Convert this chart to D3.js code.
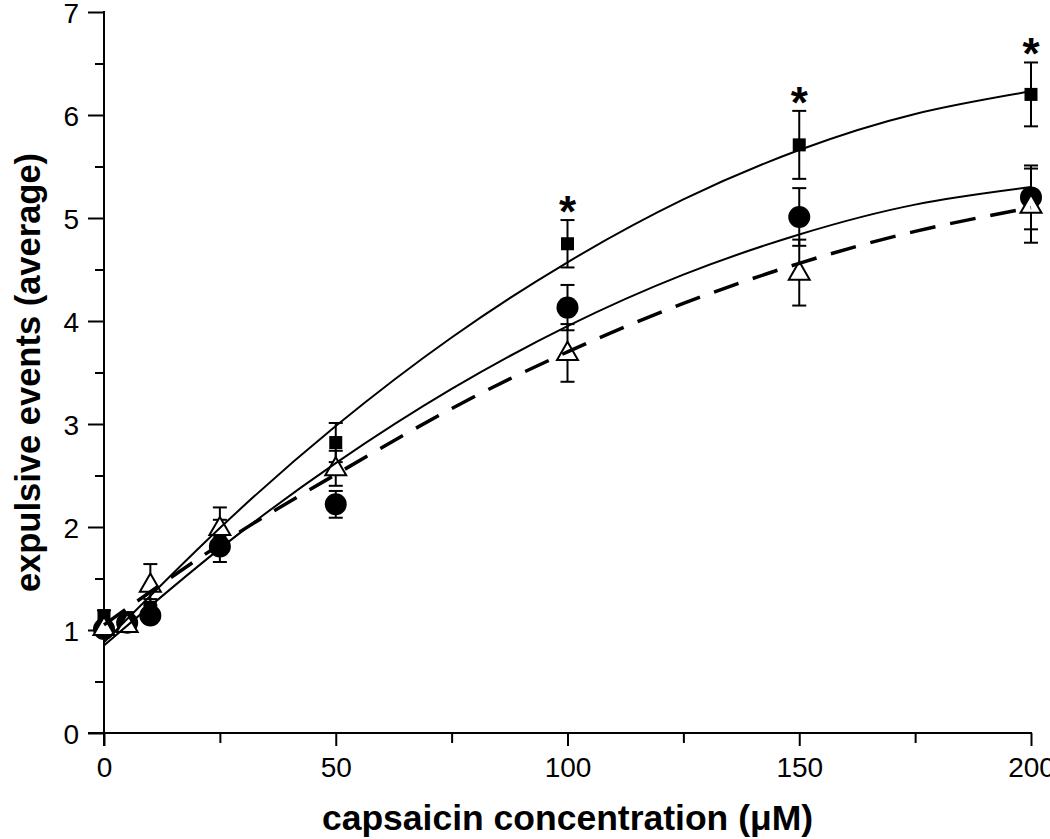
<!DOCTYPE html>
<html>
<head>
<meta charset="utf-8">
<script src="https://cdn.jsdelivr.net/npm/d3@7"></script>
<style>
  html, body { margin: 0; padding: 0; background: #fff; }
  svg { display: block; }
  text { font-family: "Liberation Sans", Arial, sans-serif; fill: #000; }
</style>
</head>
<body>
<svg id="chart" width="1050" height="839"></svg>
<script>
// ---- data ----
const concentrations = [0, 5, 10, 25, 50, 100, 150, 200];

const squareMean = [1.14, 1.12, 1.22, 1.92, 2.82, 4.75, 5.71, 6.20];
const squareErr  = [0.05, 0.05, 0.08, 0.15, 0.19, 0.23, 0.33, 0.31];

const circleMean = [1.01, 1.07, 1.14, 1.81, 2.22, 4.13, 5.01, 5.20];
const circleErr  = [0.05, 0.05, 0.06, 0.15, 0.13, 0.22, 0.28, 0.31];

const triangleMean = [1.02, 1.05, 1.44, 1.99, 2.57, 3.69, 4.47, 5.12];
const triangleErr  = [0.05, 0.05, 0.20, 0.20, 0.17, 0.28, 0.32, 0.36];

// fitted curves, read at regular concentrations
const fitX        = [0, 25, 50, 75, 100, 125, 150, 175, 200];
const fitSquare   = [0.88, 1.99, 2.98, 3.84, 4.57, 5.18, 5.66, 6.01, 6.23];
const fitCircle   = [0.85, 1.79, 2.62, 3.34, 3.95, 4.45, 4.84, 5.13, 5.30];
const fitTriangle = [1.05, 1.83, 2.51, 3.15, 3.70, 4.17, 4.56, 4.87, 5.10];

// significance markers (concentrations with *)
const starConc = [100, 150, 200];

const xTicks = [0, 50, 100, 150, 200];
const xMinorTicks = [25, 75, 125, 175];
const yTicks = [0, 1, 2, 3, 4, 5, 6, 7];
const yMinorTicks = [0.5, 1.5, 2.5, 3.5, 4.5, 5.5, 6.5];

const xTitle = "capsaicin concentration (μM)";
const yTitle = "expulsive events (average)";

// ---- drawing ----
const svg = d3.select("#chart");
const x = d3.scaleLinear().domain([0, 200]).range([104, 1031]);
const y = d3.scaleLinear().domain([0, 7]).range([733, 12]);

const x0 = x(0), y0 = y(0);

// axes
const gx = svg.append("g").attr("transform", `translate(0,${y0})`);
gx.call(d3.axisBottom(x).tickValues(xTicks).tickSize(13).tickPadding(11).tickFormat(d3.format("d")));
gx.append("g").call(d3.axisBottom(x).tickValues(xMinorTicks).tickSize(10).tickFormat(""));
gx.selectAll(".domain").remove();
gx.selectAll(".tick line").attr("stroke", "#000").attr("stroke-width", 2);
gx.selectAll(".tick text").style("font-size", "28px").attr("fill", "#000");

const gy = svg.append("g").attr("transform", `translate(${x0},0)`);
gy.call(d3.axisLeft(y).tickValues(yTicks).tickSize(16).tickPadding(9).tickFormat(d3.format("d")));
gy.append("g").call(d3.axisLeft(y).tickValues(yMinorTicks).tickSize(9).tickFormat(""));
gy.selectAll(".domain").remove();
gy.selectAll(".tick line").attr("stroke", "#000").attr("stroke-width", 2);
gy.selectAll(".tick text").style("font-size", "28px").attr("fill", "#000").attr("dy", "0.36em");

// axis lines
svg.append("line").attr("x1", x0 - 16).attr("x2", x(200) + 1).attr("y1", y0).attr("y2", y0)
  .attr("stroke", "#000").attr("stroke-width", 2);
svg.append("line").attr("x1", x0).attr("x2", x0).attr("y1", y(7) - 1).attr("y2", y0 + 13)
  .attr("stroke", "#000").attr("stroke-width", 2);

// titles
svg.append("text").attr("x", (x(0) + x(200)) / 2 + 0).attr("y", 830)
  .attr("text-anchor", "middle").style("font-size", "35.5px").style("font-weight", "bold")
  .text(xTitle);
svg.append("text").attr("transform", `translate(40,${(y(0) + y(7)) / 2}) rotate(-90)`)
  .attr("text-anchor", "middle").style("font-size", "34.5px").style("font-weight", "bold")
  .text(yTitle);

// error bars
function errorBars(means, errs) {
  const g = svg.append("g");
  concentrations.forEach((c, i) => {
    const cx = x(c), top = y(means[i] + errs[i]), bot = y(means[i] - errs[i]);
    g.append("line").attr("x1", cx).attr("x2", cx).attr("y1", top).attr("y2", bot)
      .attr("stroke", "#000").attr("stroke-width", 2);
    [top, bot].forEach(v => g.append("line").attr("x1", cx - 7).attr("x2", cx + 7)
      .attr("y1", v).attr("y2", v).attr("stroke", "#000").attr("stroke-width", 2));
  });
}
errorBars(circleMean, circleErr);
errorBars(squareMean, squareErr);
errorBars(triangleMean, triangleErr);

// markers
svg.append("g").selectAll("circle").data(concentrations).join("circle")
  .attr("cx", d => x(d)).attr("cy", (d, i) => y(circleMean[i])).attr("r", 11).attr("fill", "#000");
svg.append("g").selectAll("rect").data(concentrations).join("rect")
  .attr("x", d => x(d) - 6.5).attr("y", (d, i) => y(squareMean[i]) - 6.5)
  .attr("width", 13).attr("height", 13).attr("fill", "#000");
const tri = d3.symbol().type(d3.symbolTriangle).size(190);
svg.append("g").selectAll("path").data(concentrations).join("path")
  .attr("d", tri)
  .attr("transform", (d, i) => `translate(${x(d)},${y(triangleMean[i]) + 1})`)
  .attr("fill", "#fff").attr("stroke", "#000").attr("stroke-width", 2);

// fitted curves
const line = vals => d3.line().x(d => x(d)).y((d, i) => y(vals[i])).curve(d3.curveNatural)(fitX);
svg.append("path").attr("d", line(fitSquare)).attr("fill", "none").attr("stroke", "#000").attr("stroke-width", 2);
svg.append("path").attr("d", line(fitCircle)).attr("fill", "none").attr("stroke", "#000").attr("stroke-width", 2);
svg.append("path").attr("d", line(fitTriangle)).attr("fill", "none").attr("stroke", "#000")
  .attr("stroke-width", 3.5).attr("stroke-dasharray", "26,15");

// significance stars
svg.append("g").selectAll("text").data(starConc).join("text")
  .attr("x", d => x(d)).attr("y", d => {
    const i = concentrations.indexOf(d);
    return y(squareMean[i] + squareErr[i]) + 7;
  })
  .attr("text-anchor", "middle").style("font-size", "44px").style("font-weight", "bold").text("*");
</script>
</body>
</html>
